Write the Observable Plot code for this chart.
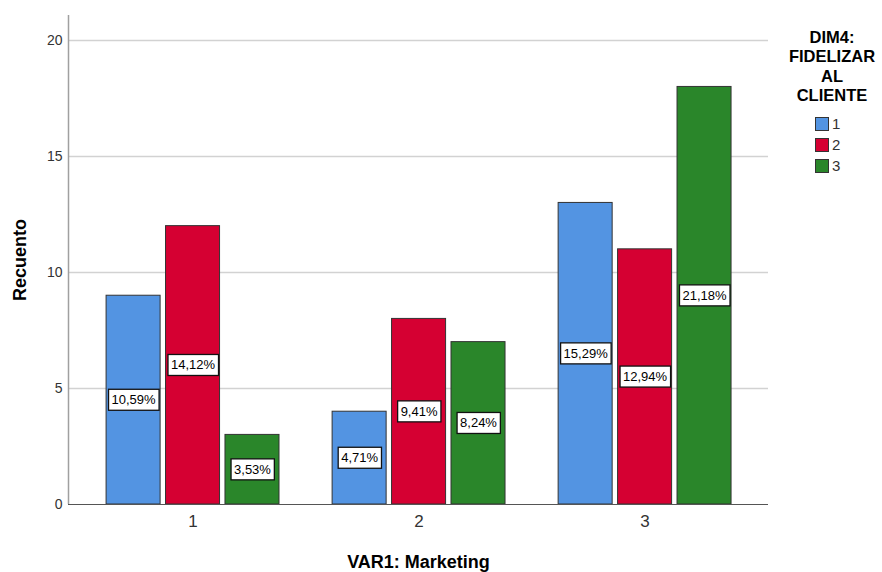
<!DOCTYPE html>
<html><head><meta charset="utf-8">
<script src="https://cdn.jsdelivr.net/npm/d3@7"></script>
<script src="https://cdn.jsdelivr.net/npm/@observablehq/plot@0.6"></script>
<style>
body{margin:0;background:#fff;font-family:"Liberation Sans",Arial,sans-serif}
#wrap{position:relative;width:882px;height:572px}
#legend{position:absolute;left:782px;top:28px;width:100px;color:#000}
#legend .title{font-weight:bold;font-size:16.5px;line-height:19.3px;text-align:center}
#legend .row{position:absolute;left:33px;height:21px;display:flex;align-items:center;font-size:15px;color:#333}
#legend .sw{width:14px;height:14px;box-sizing:border-box;border:1px solid #333;margin-right:3px}
</style>
</head><body><div id="wrap"><div id="chart"></div><div id="legend"></div></div><script>
// Data
const groups = [1, 2, 3];                 // VAR1: Marketing
const series = ["1", "2", "3"];           // DIM4: FIDELIZAR AL CLIENTE
const serie1 = [9, 4, 13];
const serie2 = [12, 8, 11];
const serie3 = [3, 7, 18];
const total = 85;
const colors = ["#5394e2", "#d50032", "#2a862a"];
const yTicks = [0, 5, 10, 15, 20];
const xTitle = "VAR1: Marketing";
const yTitle = "Recuento";
const legendTitle = ["DIM4:", "FIDELIZAR", "AL", "CLIENTE"];

const seriesValues = [serie1, serie2, serie3];
const data = groups.flatMap((g, i) => series.map((s, j) => ({g, s, j, v: seriesValues[j][i]})));
const fmt = d => d3.format(".2f")(d.v / total * 100).replace(".", ",") + "%";

const offset = 0.263, halfW = 0.1195;
const cx = d => d.g + (d.j - 1) * offset;
const xDomain = [0.449, 3.546], yDomain = [0, 21.08];

const chart = Plot.plot({
  width: 882, height: 572,
  marginLeft: 68, marginRight: 114, marginTop: 15, marginBottom: 68,
  style: {fontFamily: "'Liberation Sans', Arial, sans-serif", background: "white"},
  x: {type: "linear", domain: xDomain},
  y: {domain: yDomain},
  color: {domain: series, range: colors},
  marks: [
    Plot.ruleY(yTicks.filter(t => t > 0), {stroke: "#d2d2d2", strokeWidth: 1.5}),
    Plot.rectY(data, {x1: d => cx(d) - halfW, x2: d => cx(d) + halfW, y1: 0, y2: "v", fill: "s", stroke: "#333", strokeWidth: 1}),
    Plot.ruleX([xDomain[0]], {y1: 0, y2: yDomain[1], stroke: "#a0a0a0", strokeWidth: 1.5}),
    Plot.ruleY([0], {stroke: "#555", strokeWidth: 1.2}),
    Plot.axisY({ticks: yTicks, tickSize: 0, tickPadding: 6, fontSize: 14, color: "#333", label: null}),
    Plot.axisX({ticks: groups, tickFormat: d => String(d), tickSize: 0, tickPadding: 10, fontSize: 17, color: "#333", label: null}),
    Plot.text(data, {x: cx, y: d => d.v / 2, text: fmt, fontSize: 13, fill: "#000"}),
    Plot.text([yTitle], {frameAnchor: "left", dx: -48, rotate: -90, textAnchor: "middle", lineAnchor: "middle", fontWeight: "bold", fontSize: 18, fill: "#000"}),
    Plot.text([xTitle], {frameAnchor: "bottom", dy: 58, textAnchor: "middle", lineAnchor: "middle", fontWeight: "bold", fontSize: 18, fill: "#000"})
  ]
});
document.getElementById("chart").appendChild(chart);

// white boxes behind percentage labels
const pctTexts = Array.from(chart.querySelectorAll("text")).filter(t => /%$/.test(t.textContent.trim()));
pctTexts.forEach(el => {
  const b = el.getBBox();
  const r = document.createElementNS("http://www.w3.org/2000/svg", "rect");
  const tr = el.getAttribute("transform");
  if (tr) r.setAttribute("transform", tr);
  const cy = b.y + b.height / 2;
  r.setAttribute("x", b.x - 3);
  r.setAttribute("width", b.width + 6);
  r.setAttribute("y", cy - 10.5);
  r.setAttribute("height", 21);
  r.setAttribute("fill", "white");
  r.setAttribute("stroke", "#111");
  r.setAttribute("stroke-width", 1.3);
  el.parentNode.insertBefore(r, el);
});

// legend
const lg = document.getElementById("legend");
const t = document.createElement("div");
t.className = "title";
t.innerHTML = legendTitle.join("<br>");
lg.appendChild(t);
series.forEach((s, i) => {
  const row = document.createElement("div");
  row.className = "row";
  row.style.top = (85 + i * 21) + "px";
  row.innerHTML = `<span class="sw" style="background:${colors[i]}"></span><span>${s}</span>`;
  lg.appendChild(row);
});
</script></body></html>
